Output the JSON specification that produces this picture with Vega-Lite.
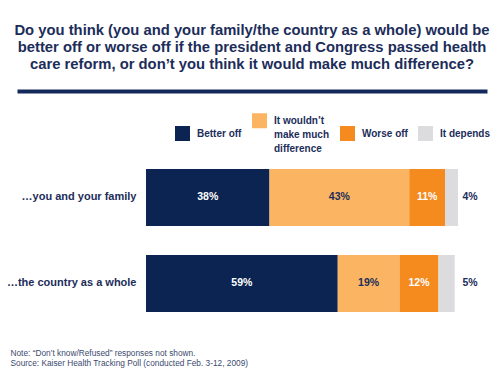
{
  "$schema": "https://vega.github.io/schema/vega-lite/v6.json",
  "autosize": {"type": "none"},
  "padding": {"left": 17, "top": 91, "right": 13, "bottom": 45},
  "width": 470,
  "height": 239,
  "background": "white",
  "title": {
    "text": ["Do you think (you and your family/the country as a whole) would be", "better off or worse off if the president and Congress passed health", "care reform, or don’t you think it would make much difference?"],
    "anchor": "middle",
    "frame": "group",
    "font": "Liberation Sans",
    "fontSize": 14.8,
    "fontWeight": "bold",
    "color": "#1c2d5a",
    "lineHeight": 17,
    "offset": 19
  },
  "data": {
    "values": [
      {"group": "…you and your family", "response": "Better off", "order": 1, "pct": 0.38},
      {"group": "…you and your family", "response": "It wouldn’t make much difference", "order": 2, "pct": 0.43},
      {"group": "…you and your family", "response": "Worse off", "order": 3, "pct": 0.11},
      {"group": "…you and your family", "response": "It depends", "order": 4, "pct": 0.04},
      {"group": "…the country as a whole", "response": "Better off", "order": 1, "pct": 0.59},
      {"group": "…the country as a whole", "response": "It wouldn’t make much difference", "order": 2, "pct": 0.19},
      {"group": "…the country as a whole", "response": "Worse off", "order": 3, "pct": 0.12},
      {"group": "…the country as a whole", "response": "It depends", "order": 4, "pct": 0.05}
    ]
  },
  "transform": [
    {"stack": "pct", "groupby": ["group"], "sort": [{"field": "order", "order": "ascending"}], "as": ["x0", "x1"]}
  ],
  "encoding": {
    "y": {
      "field": "group",
      "type": "nominal",
      "sort": ["…you and your family", "…the country as a whole"],
      "scale": {"paddingInner": 0.337, "paddingOuter": 0.558, "align": 0.8125},
      "axis": {
        "title": null,
        "domain": false,
        "ticks": false,
        "offset": -129,
        "labelPadding": 10,
        "labelFont": "Liberation Sans",
        "labelFontSize": 11,
        "labelFontWeight": "bold",
        "labelColor": "#1c2d5a",
        "labelLimit": 200
      }
    }
  },
  "layer": [
    {
      "mark": {"type": "bar"},
      "encoding": {
        "x": {
          "field": "x0",
          "type": "quantitative",
          "scale": {"domain": [-0.39692, 1.04923], "nice": false, "zero": false},
          "axis": {"orient": "top", "title": null, "labels": false, "ticks": false, "grid": false, "domain": true, "domainColor": "#13295b", "domainWidth": 4}
        },
        "x2": {"field": "x1"},
        "color": {
          "field": "response",
          "type": "nominal",
          "scale": {
            "domain": ["Better off", "It wouldn’t make much difference", "Worse off", "It depends"],
            "range": ["#0b2452", "#fbb461", "#f58a1f", "#dcdcde"]
          },
          "legend": {
            "orient": "none",
            "direction": "horizontal",
            "legendX": 158,
            "legendY": 22,
            "title": null,
            "symbolType": "square",
            "symbolSize": 225,
            "symbolStrokeWidth": 0,
            "symbolOpacity": 1,
            "labelFont": "Liberation Sans",
            "labelFontSize": 10,
            "labelFontWeight": "bold",
            "labelColor": "#1c2d5a",
            "labelOffset": 7,
            "columnPadding": 10,
            "labelLimit": 200,
            "labelExpr": "datum.label == 'It wouldn’t make much difference' ? ['It wouldn’t', 'make much', 'difference'] : datum.label",
            "encode": {"labels": {"update": {"lineHeight": {"value": 14}}}}
          }
        }
      }
    },
    {
      "transform": [
        {"filter": "datum.order < 4"},
        {"calculate": "(datum.x0 + datum.x1) / 2", "as": "mid"}
      ],
      "mark": {"type": "text", "font": "Liberation Sans", "fontSize": 10.5, "fontWeight": "bold", "align": "center", "baseline": "middle"},
      "encoding": {
        "x": {
          "field": "mid",
          "type": "quantitative",
          "axis": {
            "orient": "bottom",
            "domain": false, "labels": false, "ticks": false, "grid": false,
            "title": ["Note: “Don’t know/Refused” responses not shown.", "Source: Kaiser Health Tracking Poll (conducted Feb. 3-12, 2009)"],
            "titleAnchor": "start",
            "titleAlign": "left",
            "titleBaseline": "top",
            "titleX": -7,
            "titleY": 18,
            "titleFont": "Liberation Sans",
            "titleFontSize": 8.3,
            "titleFontWeight": "normal",
            "titleColor": "#3b4a6e",
            "titleLineHeight": 10.5
          }
        },
        "text": {"field": "pct", "type": "quantitative", "format": ".0%"},
        "color": {"condition": {"test": "datum.order == 2", "value": "#1c2d5a"}, "value": "white"}
      }
    },
    {
      "transform": [{"filter": "datum.order == 4"}],
      "mark": {"type": "text", "font": "Liberation Sans", "fontSize": 10.5, "fontWeight": "bold", "align": "center", "baseline": "middle", "color": "#1c2d5a", "dx": -1},
      "encoding": {
        "x": {"datum": 1, "axis": null},
        "text": {"field": "pct", "type": "quantitative", "format": ".0%"}
      }
    }
  ],
  "resolve": {"axis": {"x": "independent"}},
  "config": {"view": {"stroke": null}}
}
